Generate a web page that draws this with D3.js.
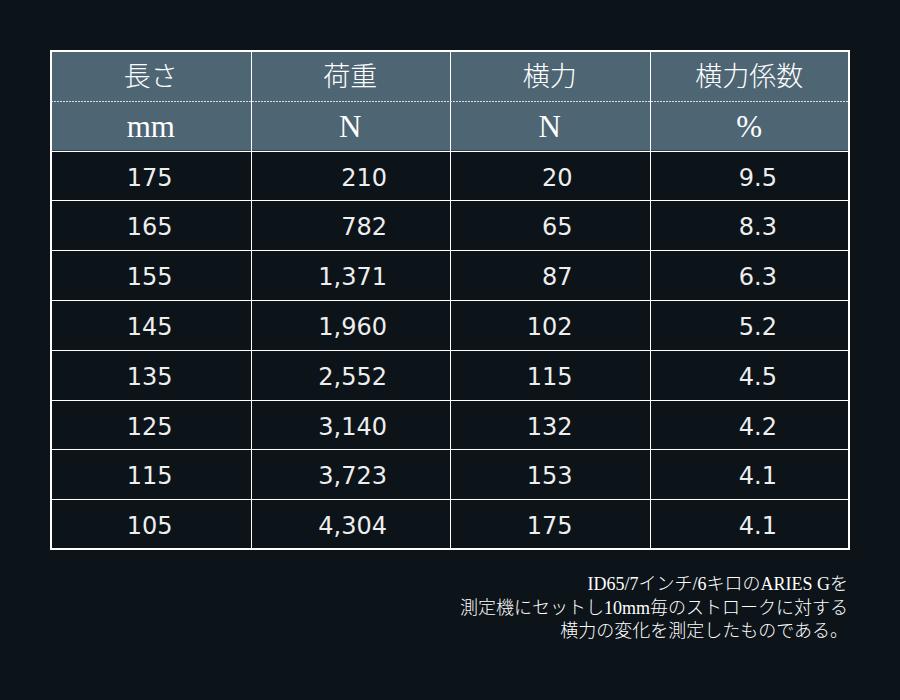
<!DOCTYPE html>
<html>
<head>
<meta charset="utf-8">
<script src="https://cdn.jsdelivr.net/npm/d3@7"></script>
<style>
  html, body { margin: 0; padding: 0; background: #0c1319; }
  svg { display: block; }
</style>
</head>
<body>
<svg id="chart" width="900" height="700"></svg>
<script>
// column headers and units
var headers = ["長さ", "荷重", "横力", "横力係数"];
var units = ["mm", "N", "N", "%"];

// table values
var lengths = [175, 165, 155, 145, 135, 125, 115, 105];
var loads = [210, 782, 1371, 1960, 2552, 3140, 3723, 4304];
var lateral = [20, 65, 87, 102, 115, 132, 153, 175];
var coef = [9.5, 8.3, 6.3, 5.2, 4.5, 4.2, 4.1, 4.1];

var notes = [
  "ID65/7インチ/6キロのARIES Gを",
  "測定機にセットし10mm毎のストロークに対する",
  "横力の変化を測定したものである。"
];

(function() {
  var svg = d3.select("#chart");

  var tLeft = 51, tRight = 849, tTop = 51, tBottom = 549;
  var headFont = "'Liberation Serif', 'DejaVu Serif', 'Noto Sans CJK JP', serif";
  var bodyFont = "'DejaVu Sans', 'Noto Sans', sans-serif";

  // rows: 2 header rows + data rows
  var rowIds = d3.range(2 + lengths.length);
  var y = d3.scaleBand().domain(rowIds).range([tTop, tBottom]);
  var x = d3.scaleBand().domain(d3.range(headers.length)).range([tLeft, tRight]);

  // header background
  svg.append("rect")
    .attr("x", tLeft).attr("y", y(0))
    .attr("width", tRight - tLeft).attr("height", y(2) - y(0))
    .attr("fill", "#4e6574");

  var fmt = d3.format(",");
  var rows = lengths.map(function(d, i) {
    return [String(d), fmt(loads[i]), String(lateral[i]), coef[i].toFixed(1)];
  });

  // right edge of the numbers in each column, measured from the column's right border
  var padRight = [78, 63, 77, 72];

  // header text
  svg.append("g").selectAll("text").data(headers).enter()
    .append("text")
    .attr("x", function(d, i) { return x(i) + x.bandwidth() / 2; })
    .attr("y", y(0) + y.bandwidth() / 2 + 1)
    .attr("text-anchor", "middle")
    .attr("dominant-baseline", "central")
    .attr("font-family", headFont)
    .attr("font-weight", 300)
    .attr("font-size", 27)
    .attr("fill", "#ffffff")
    .text(function(d) { return d; });

  svg.append("g").selectAll("text").data(units).enter()
    .append("text")
    .attr("x", function(d, i) { return x(i) + x.bandwidth() / 2; })
    .attr("y", y(1) + y.bandwidth() / 2 + 1)
    .attr("text-anchor", "middle")
    .attr("dominant-baseline", "central")
    .attr("font-family", headFont)
    .attr("font-size", 31)
    .attr("fill", "#ffffff")
    .text(function(d) { return d; });

  // body values
  var rowG = svg.append("g").selectAll("g").data(rows).enter()
    .append("g")
    .attr("transform", function(d, i) { return "translate(0," + (y(i + 2) + y.bandwidth() / 2 + 2) + ")"; });

  rowG.selectAll("text").data(function(d) { return d; }).enter()
    .append("text")
    .attr("x", function(d, i) { return x(i) + x.bandwidth() - padRight[i]; })
    .attr("text-anchor", "end")
    .attr("dominant-baseline", "central")
    .attr("font-family", bodyFont)
    .attr("font-size", 24)
    .attr("fill", "#eeeeee")
    .text(function(d) { return d; });

  // grid lines
  var grid = svg.append("g").attr("stroke", "#ffffff").attr("fill", "none");

  grid.selectAll("line.v").data(d3.range(1, headers.length)).enter()
    .append("line").attr("class", "v")
    .attr("x1", function(d) { return Math.round(x(d)) + 0.5; })
    .attr("x2", function(d) { return Math.round(x(d)) + 0.5; })
    .attr("y1", tTop).attr("y2", tBottom)
    .attr("stroke-width", 1);

  grid.selectAll("line.h").data(d3.range(2, rowIds.length)).enter()
    .append("line").attr("class", "h")
    .attr("x1", tLeft).attr("x2", tRight)
    .attr("y1", function(d) { return Math.round(y(d)) + 0.5; })
    .attr("y2", function(d) { return Math.round(y(d)) + 0.5; })
    .attr("stroke-width", 1);

  // dashed separator between the two header rows
  grid.append("line")
    .attr("x1", tLeft).attr("x2", tRight)
    .attr("y1", Math.round(y(1)) + 0.5).attr("y2", Math.round(y(1)) + 0.5)
    .attr("stroke", "#d8dde0")
    .attr("stroke-width", 1)
    .attr("stroke-dasharray", "2,1");

  // outer border
  grid.append("rect")
    .attr("x", tLeft).attr("y", tTop)
    .attr("width", tRight - tLeft).attr("height", tBottom - tTop)
    .attr("stroke-width", 2);

  // footnote
  svg.append("g").selectAll("text").data(notes).enter()
    .append("text")
    .attr("x", 848)
    .attr("y", function(d, i) { return 590 + i * 23.5; })
    .attr("text-anchor", "end")
    .attr("font-family", headFont)
    .attr("font-weight", 300)
    .attr("font-size", 18)
    .attr("fill", "#ffffff")
    .text(function(d) { return d; });
})();
</script>
</body>
</html>
